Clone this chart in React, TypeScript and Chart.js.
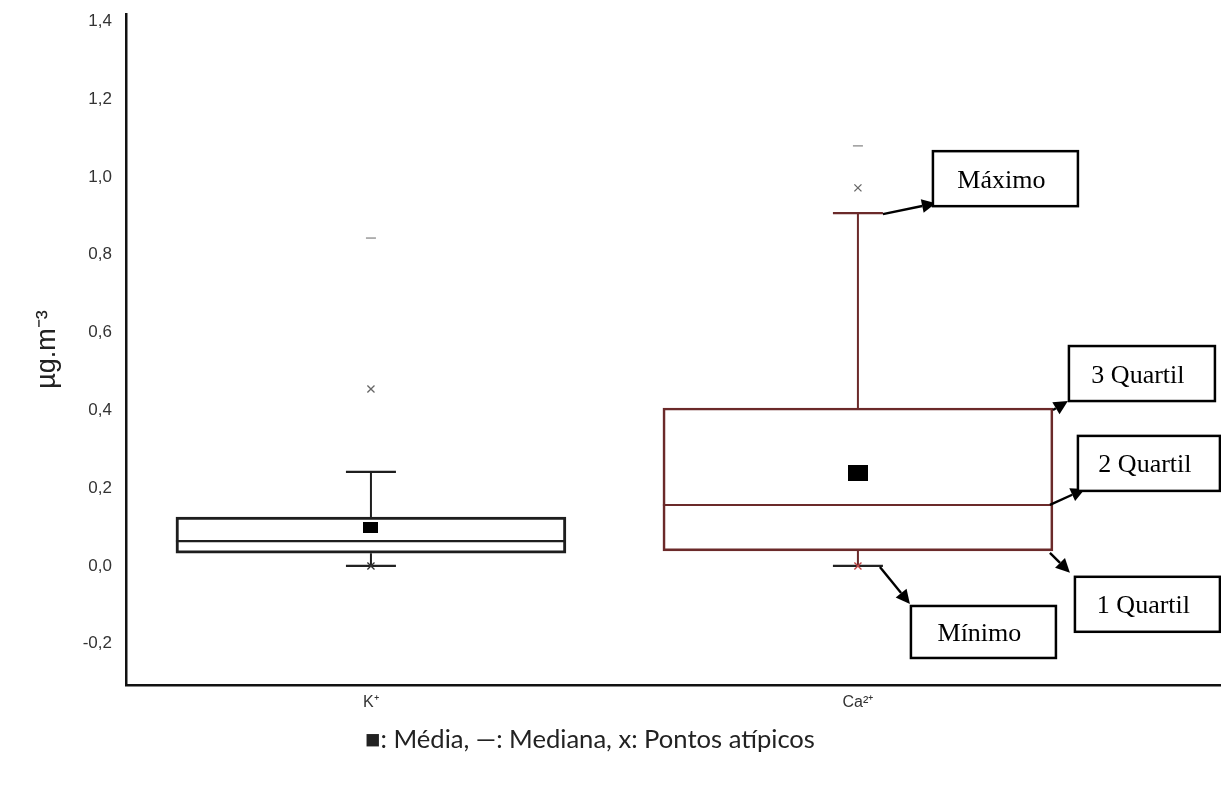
import React, { useEffect, useRef } from "react";
import { Chart, registerables } from "chart.js";

Chart.register(...registerables);

// ---------- data ----------
const CATEGORIES = ["K⁺", "Ca²⁺"];
const X_POS = [1, 2];
const Q1 = [0.033, 0.039];
const MEDIAN = [0.064, 0.157];
const Q3 = [0.126, 0.406];
const WHISKER_LOW = [0.0, 0.0];
const WHISKER_HIGH = [0.242, 0.907];
const MEAN = [0.098, 0.239];
const OUTLIERS = [
  [0.0, 0.455],
  [0.0, 0.972],
];
const EXTREMES = [[0.843], [1.08]];
const Y_TICKS = [-0.2, 0.0, 0.2, 0.4, 0.6, 0.8, 1.0, 1.2, 1.4];
const Y_TITLE = "µg.m⁻³";
const LEGEND_TEXT = "■: Média, —: Mediana, x: Pontos atípicos";
const ANNOT_LABELS = ["Máximo", "3 Quartil", "2 Quartil", "1 Quartil", "Mínimo"];
const ANNOT_STATS = [WHISKER_HIGH, Q3, MEDIAN, Q1, WHISKER_LOW];
const ANNOT_SERIES = 1;

// ---------- style / layout ----------
const BOX_COLORS = ["#1e1e1e", "#6b2a2a"];
const MIN_MARK_COLORS = ["#333333", "#c24848"];
const BOX_WIDTH = 390;
const CAP_WIDTH = 50;
const MEAN_SIZES = [
  [15, 11],
  [20, 16],
];
const SANS = '"Liberation Sans", Arial, sans-serif';
const SERIF = '"Liberation Serif", "Times New Roman", serif';
const ANNOT_LAYOUT = [
  { edge: "cap", start: [0, 1], tip: [53, -10], box: [50, -62, 145, 55] },
  { edge: "box", start: [0, 2], tip: [15, -7], box: [16, -62, 146, 55] },
  { edge: "box", start: [-3, 0], tip: [32, -16], box: [25, -69, 142, 55] },
  { edge: "box", start: [-3, 2], tip: [17, 22], box: [22, 26, 145, 55] },
  { edge: "cap", start: [-3, 1], tip: [27, 38], box: [28, 40, 145, 52] },
];
const CANVAS_W = 1221;
const CANVAS_H = 771;
const LEGEND_X = 582;
const LEGEND_Y = 732;
const LEGEND_WIDTH = 450;

const fmt = (v: number) => v.toFixed(1).replace(".", ",");

const annotPlugin = {
  id: "annotations",
  afterDraw(chart: any) {
    const { ctx, scales } = chart;
    const xs = scales.x;
    const ys = scales.y;
    const i = ANNOT_SERIES;
    const cx = xs.getPixelForValue(X_POS[i]);
    ctx.save();
    ANNOT_LABELS.forEach((label, k) => {
      const lay = ANNOT_LAYOUT[k];
      const ax = cx + (lay.edge === "cap" ? CAP_WIDTH / 2 : BOX_WIDTH / 2);
      const ay = ys.getPixelForValue(ANNOT_STATS[k][i]);
      const sx = ax + lay.start[0];
      const sy = ay + lay.start[1];
      const tx = ax + lay.tip[0];
      const ty = ay + lay.tip[1];
      const ang = Math.atan2(ty - sy, tx - sx);
      const hl = 14;
      const hw = 7;
      const bx = tx - hl * Math.cos(ang);
      const by = ty - hl * Math.sin(ang);
      ctx.strokeStyle = "#000";
      ctx.fillStyle = "#000";
      ctx.lineWidth = 2.4;
      ctx.beginPath();
      ctx.moveTo(sx, sy);
      ctx.lineTo(bx, by);
      ctx.stroke();
      ctx.beginPath();
      ctx.moveTo(tx, ty);
      ctx.lineTo(bx + hw * Math.sin(ang), by - hw * Math.cos(ang));
      ctx.lineTo(bx - hw * Math.sin(ang), by + hw * Math.cos(ang));
      ctx.closePath();
      ctx.fill();
      const [l, t, w, h] = lay.box;
      const left = ax + l;
      const top = ay + t;
      ctx.fillStyle = "#fff";
      ctx.fillRect(left, top, w, h);
      ctx.lineWidth = 2.5;
      ctx.strokeStyle = "#000";
      ctx.strokeRect(left, top, w, h);
      ctx.fillStyle = "#000";
      ctx.font = `26px ${SERIF}`;
      ctx.textAlign = "center";
      ctx.textBaseline = "alphabetic";
      ctx.fillText(label, left + w / 2 - 4, top + h / 2 + 9);
    });
    // legend text
    ctx.font = `22px Lato, ${SANS}`;
    const mw = ctx.measureText(LEGEND_TEXT).width;
    const size = (22 * LEGEND_WIDTH) / mw;
    ctx.font = `${size}px Lato, ${SANS}`;
    ctx.fillStyle = "#222";
    ctx.textAlign = "center";
    ctx.textBaseline = "middle";
    ctx.fillText(LEGEND_TEXT, LEGEND_X, LEGEND_Y);
    ctx.restore();
  },
};

export default function App() {
  const ref = useRef<HTMLCanvasElement>(null);
  useEffect(() => {
    const canvas = ref.current;
    if (!canvas) return;
    const meanImgs = MEAN_SIZES.map(([w, h]) => {
      const c = document.createElement("canvas");
      c.width = w;
      c.height = h;
      const g = c.getContext("2d")!;
      g.fillStyle = "#000";
      g.fillRect(0, 0, w, h);
      return c;
    });

    const datasets: any[] = [];
    datasets.push({
      type: "bar",
      data: X_POS.map((x, i) => ({ x, y: [Q1[i], Q3[i]] })),
      backgroundColor: "rgba(255,255,255,0)",
      borderColor: BOX_COLORS,
      borderWidth: [2.4, 2],
      borderSkipped: false,
      barThickness: BOX_WIDTH,
      grouped: false,
      order: 6,
    });
    X_POS.forEach((x, i) => {
      datasets.push({
        type: "line",
        data: [
          { x, y: Q3[i] },
          { x, y: WHISKER_HIGH[i] },
          { x, y: null },
          { x, y: WHISKER_LOW[i] },
          { x, y: Q1[i] },
        ],
        borderColor: BOX_COLORS[i],
        borderWidth: 2,
        pointRadius: 0,
        spanGaps: false,
        fill: false,
        order: 5,
      });
    });
    datasets.push({
      type: "scatter",
      data: X_POS.map((x, i) => ({ x, y: MEDIAN[i] })),
      pointStyle: "line",
      pointRadius: BOX_WIDTH / 2,
      pointBorderColor: BOX_COLORS,
      pointBorderWidth: [2.4, 2],
      order: 4,
    });
    datasets.push({
      type: "scatter",
      data: X_POS.flatMap((x, i) => [
        { x, y: WHISKER_HIGH[i] },
        { x, y: WHISKER_LOW[i] },
      ]),
      pointStyle: "line",
      pointRadius: CAP_WIDTH / 2,
      pointBorderColor: X_POS.flatMap((_, i) => [BOX_COLORS[i], "#222"]),
      pointBorderWidth: 2.2,
      order: 4,
    });
    datasets.push({
      type: "scatter",
      data: X_POS.map((x, i) => ({ x, y: MEAN[i] })),
      pointStyle: meanImgs,
      pointRadius: 8,
      order: 1,
    });
    datasets.push({
      type: "scatter",
      data: X_POS.flatMap((x, i) => OUTLIERS[i].map((v) => ({ x, y: v }))),
      pointStyle: "crossRot",
      pointRadius: 5,
      pointBorderWidth: 1.3,
      pointBorderColor: X_POS.flatMap((_, i) =>
        OUTLIERS[i].map((v) => (v === WHISKER_LOW[i] ? MIN_MARK_COLORS[i] : "#666"))
      ),
      order: 2,
    });
    datasets.push({
      type: "scatter",
      data: X_POS.flatMap((x, i) => EXTREMES[i].map((v) => ({ x, y: v }))),
      pointStyle: "line",
      pointRadius: 5,
      pointBorderWidth: 1.5,
      pointBorderColor: "#9a9a9a",
      order: 2,
    });

    const chart = new Chart(canvas, {
      type: "scatter",
      data: { datasets },
      options: {
        animation: false,
        responsive: false,
        events: [],
        layout: { autoPadding: false, padding: { top: 6, right: 0, bottom: 64, left: 0 } },
        plugins: {
          legend: { display: false },
          tooltip: { enabled: false },
          title: { display: false },
        },
        scales: {
          x: {
            type: "linear",
            offset: false,
            min: 0.497,
            max: 2.762,
            grid: { display: false, drawTicks: false, offset: false },
            border: { display: true, color: "#111", width: 2.5 },
            afterBuildTicks: (s: any) => {
              s.ticks = X_POS.map((v) => ({ value: v }));
            },
            afterFit: (s: any) => {
              s.height = 30;
              s.paddingLeft = 0;
              s.paddingRight = 0;
            },
            ticks: {
              autoSkip: false,
              maxRotation: 0,
              padding: 8,
              color: "#333",
              font: { size: 16, family: SANS },
              callback: (v: any) => {
                const idx = X_POS.indexOf(Number(v));
                return idx >= 0 ? CATEGORIES[idx] : "";
              },
            },
          },
          y: {
            type: "linear",
            min: -0.306,
            max: 1.419,
            grid: { display: false, drawTicks: false },
            border: { display: true, color: "#111", width: 2.5 },
            afterBuildTicks: (s: any) => {
              s.ticks = Y_TICKS.map((v) => ({ value: v }));
            },
            afterFit: (s: any) => {
              s.width = 118;
              s.paddingTop = 0;
              s.paddingBottom = 0;
            },
            ticks: {
              padding: 14,
              color: "#333",
              font: { size: 17, family: SANS },
              callback: (v: any) => fmt(Number(v)),
            },
            title: {
              display: true,
              text: Y_TITLE,
              color: "#222",
              font: { size: 27, family: SANS },
              padding: { top: 23, bottom: 0 },
            },
          },
        },
      },
      plugins: [annotPlugin],
    } as any);
    return () => chart.destroy();
  }, []);

  return (
    <div style={{ width: CANVAS_W, height: CANVAS_H }}>
      <canvas ref={ref} width={CANVAS_W} height={CANVAS_H} style={{ display: "block" }} />
    </div>
  );
}
